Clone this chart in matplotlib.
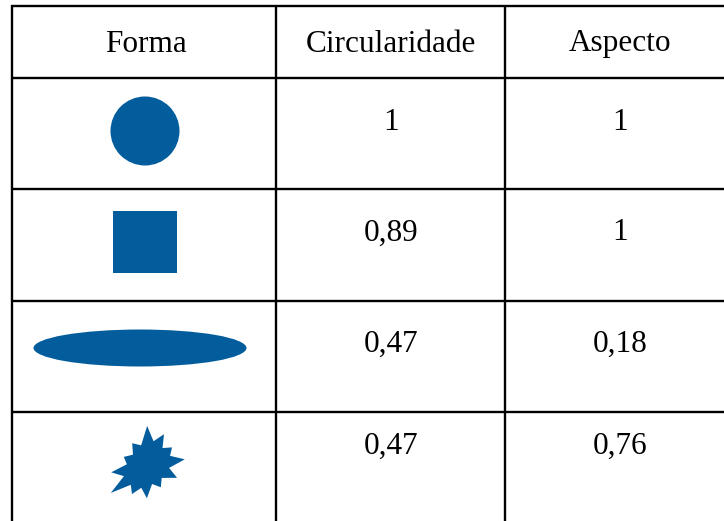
import numpy as np
import matplotlib
matplotlib.use("Agg")
import matplotlib.pyplot as plt
from matplotlib.patches import Circle, Rectangle, Ellipse, Polygon

headers = ["Forma", "Circularidade", "Aspecto"]
shapes = ["circle", "square", "ellipse", "star"]
circularidade = ["1", "0,89", "0,47", "0,47"]
aspecto = ["1", "1", "0,18", "0,76"]

BLUE = "#035C9C"
W, H = 724, 521

# table grid (pixel coords)
col_x = [12, 276, 505]
row_y = [6, 78, 189, 301, 412]
col_centers = [146, 391, 620]
text_y = [44, 122, 233, 344, 446]


def add_shape(ax, kind, cx, cy):
    if kind == "circle":
        ax.add_patch(Circle((cx, cy), 34.5, color=BLUE, lw=0))
    elif kind == "square":
        ax.add_patch(Rectangle((cx - 32, cy - 31), 64, 62, color=BLUE, lw=0))
    elif kind == "ellipse":
        ax.add_patch(Ellipse((cx, cy), 213, 37, color=BLUE, lw=0))
    elif kind == "star":
        # irregular burst, long axis from lower-left to upper-right
        outer = [38, 29, 34, 41, 30, 27, 36, 42, 30, 33, 28, 35]
        inner = [24, 22, 25, 23, 20, 21, 24, 23, 22, 20, 21, 23]
        n = len(outer)
        pts = []
        for i in range(n):
            a0 = np.deg2rad(5 + i * 360 / n)
            a1 = np.deg2rad(5 + (i + 0.5) * 360 / n)
            pts.append((outer[i] * np.cos(a0), outer[i] * np.sin(a0)))
            pts.append((inner[i] * np.cos(a1), inner[i] * np.sin(a1)))
        pts = np.array(pts)
        # stretch along the 45 degree diagonal
        t = np.deg2rad(45)
        u = pts @ np.array([[np.cos(t), np.sin(t)], [-np.sin(t), np.cos(t)]]).T
        u[:, 0] *= 1.08
        u[:, 1] *= 0.9
        back = u @ np.array([[np.cos(t), -np.sin(t)], [np.sin(t), np.cos(t)]]).T
        xy = np.column_stack([cx + back[:, 0], cy - back[:, 1]])
        ax.add_patch(Polygon(xy, closed=True, color=BLUE, lw=0))


fig = plt.figure(figsize=(W / 100, H / 100), dpi=100)
ax = fig.add_axes([0, 0, 1, 1])
ax.set_xlim(0, W)
ax.set_ylim(H, 0)
ax.axis("off")

for y in row_y:
    ax.plot([col_x[0] - 1, W], [y, y], color="black", lw=1.7, solid_capstyle="butt")
for x in col_x:
    ax.plot([x, x], [row_y[0] - 1, H], color="black", lw=1.7, solid_capstyle="butt")

font = dict(family="Liberation Serif", fontsize=22.5, ha="center", va="center")
for cx, h in zip(col_centers, headers):
    ax.text(cx, text_y[0], h, **font)

shape_y = [131, 242, 348, 466]
shape_x = [145, 145, 140, 147]
for i, kind in enumerate(shapes):
    add_shape(ax, kind, shape_x[i], shape_y[i])
    ax.text(col_centers[1], text_y[i + 1], circularidade[i], **font)
    ax.text(col_centers[2], text_y[i + 1], aspecto[i], **font)

fig.savefig("out.png", dpi=100)
